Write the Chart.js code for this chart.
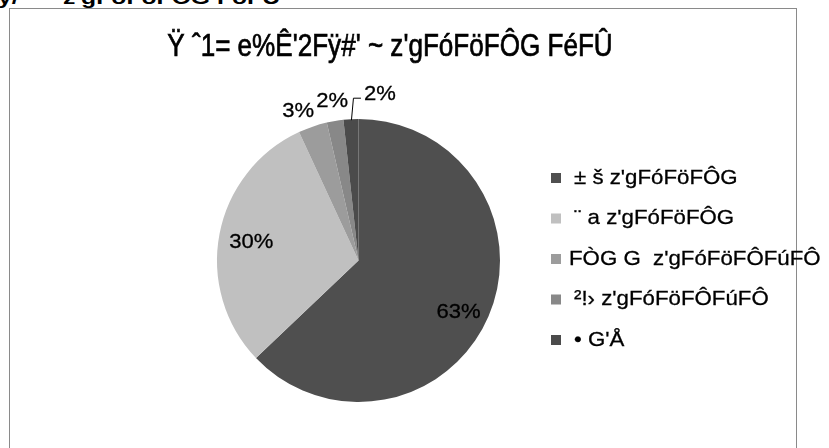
<!DOCTYPE html>
<html>
<head>
<meta charset="utf-8">
<script src="https://cdn.jsdelivr.net/npm/chart.js@4.4.0/dist/chart.umd.min.js"></script>
<style>
  html, body { margin: 0; padding: 0; background: #fff; }
  body { width: 829px; height: 448px; position: relative; overflow: hidden; font-family: "Liberation Sans", Arial, sans-serif; }
  #head { position: absolute; left: -2px; top: -13px; font-weight: bold; font-size: 19px; color: #000; white-space: nowrap; transform: scaleX(1.3); transform-origin: left top; }
  #frame { position: absolute; left: 9px; top: 8px; width: 786px; height: 460px; border: 1px solid #8a8a8a; }
  #wrap { position: absolute; left: 0; top: 0; width: 829px; height: 448px; }
</style>
</head>
<body>
<div id="head">y/' ― z'gFóFöFÔG FóFÛ</div>
<div id="frame"></div>
<div id="wrap"><canvas id="c"></canvas></div>
<script>
const title = "Ÿ ˆ1= e%Ê'2Fÿ#' ~ z'gFóFöFÔG FéFÛ";
const categories = [
  "± š z'gFóFöFÔG",
  "¨ a z'gFóFöFÔG",
  "FÒG G  z'gFóFöFÔFúFÔ",
  "²!› z'gFóFöFÔFúFÔ",
  "• G'Å"
];
const shares = [62.9, 30.2, 3.3, 1.9, 1.7];
const sliceColors = ['#4f4f4f', '#c0c0c0', '#9c9c9c', '#888888', '#4b4b4b'];

// where each percent label sits: [radius factor, dx, dy]
const labelPos = [[0.8, -4, 7], [0.8, 4, 3], [1.12, -9, 1], [1.12, 0, -3], [1.12, 30, -8]];

function wideText(ctx, txt, x, y, sx, bold) {
  ctx.save();
  ctx.translate(x, y);
  ctx.scale(sx, 1);
  ctx.fillText(txt, 0, 0);
  if (bold) {
    ctx.lineWidth = bold;
    ctx.strokeStyle = '#000';
    ctx.strokeText(txt, 0, 0);
  }
  ctx.restore();
}

const extras = {
  id: 'extras',
  afterDatasetsDraw(chart) {
    const ctx = chart.ctx;
    const meta = chart.getDatasetMeta(0);
    const total = shares.reduce((a, b) => a + b, 0);
    ctx.save();
    ctx.fillStyle = '#000';
    ctx.textAlign = 'center';
    ctx.textBaseline = 'middle';
    ctx.font = '32px "Liberation Sans", Arial, sans-serif';
    wideText(ctx, title, 390, 47, 0.815, 0.7);

    ctx.font = '21px "Liberation Sans", Arial, sans-serif';
    meta.data.forEach((arc, i) => {
      const mid = (arc.startAngle + arc.endAngle) / 2;
      const [f, dx, dy] = labelPos[i];
      const r = arc.outerRadius * f;
      const x = arc.x + Math.cos(mid) * r + dx;
      const y = arc.y + Math.sin(mid) * r + dy;
      const txt = Math.round(shares[i] / total * 100) + '%';
      if (i === 4) {
        const ex = arc.x + Math.cos(mid) * arc.outerRadius;
        const ey = arc.y + Math.sin(mid) * arc.outerRadius;
        ctx.strokeStyle = '#000';
        ctx.lineWidth = 1;
        ctx.beginPath();
        ctx.moveTo(ex + 0.5, ey + 1);
        ctx.lineTo(ex + 2.5, ey - 21);
        ctx.lineTo(ex + 10, ey - 21);
        ctx.stroke();
      }
      wideText(ctx, txt, x, y, 1.05, 0.3);
    });

    ctx.textAlign = 'left';
    categories.forEach((name, i) => {
      const y = 178 + i * 40.5;
      ctx.fillStyle = sliceColors[i];
      ctx.fillRect(551, y - 5, 10, 10);
      ctx.fillStyle = '#000';
      wideText(ctx, name, i === 2 ? 569 : 574, y, 1.06, 0.3);
    });
    ctx.restore();
  }
};

new Chart(document.getElementById('c'), {
  type: 'pie',
  data: {
    labels: categories,
    datasets: [{
      data: shares,
      backgroundColor: sliceColors,
      borderWidth: 0
    }]
  },
  options: {
    responsive: true,
    maintainAspectRatio: false,
    animation: false,
    layout: { padding: { left: 217, right: 329, top: 119, bottom: 46 } },
    plugins: {
      legend: { display: false },
      title: { display: false },
      tooltip: { enabled: false }
    }
  },
  plugins: [extras]
});
</script>
</body>
</html>
